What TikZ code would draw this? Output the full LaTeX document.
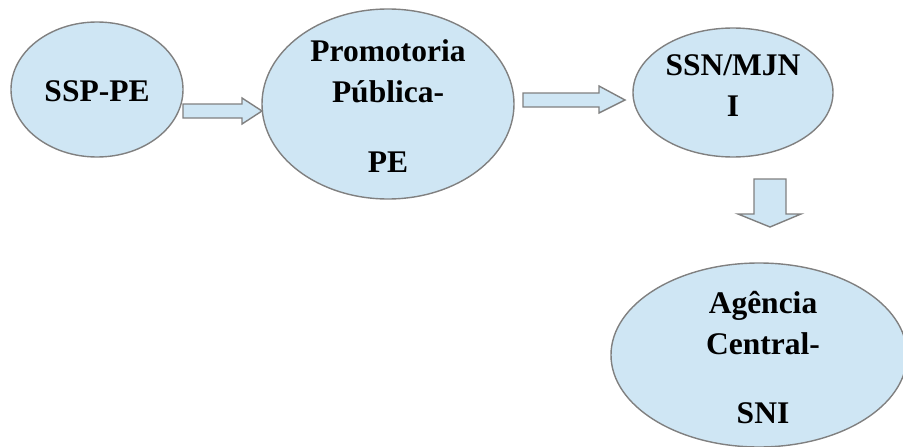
\documentclass[tikz,border=0pt]{standalone}
\usepackage{fontspec}
\setmainfont{Liberation Serif}
\usetikzlibrary{shapes.geometric}
\definecolor{bubfill}{RGB}{207,230,244}
\definecolor{bubline}{RGB}{128,128,128}
\tikzset{
  bub/.style={ellipse, draw=bubline, fill=bubfill, line width=1.4pt, inner sep=0pt},
  lbl/.style={align=center, inner sep=0pt, font=\bfseries\fontsize{31.5}{41}\selectfont},
  blk/.style={draw=bubline, fill=bubfill, line width=1.4pt, line join=miter}
}
\begin{document}
\begin{tikzpicture}[x=1pt,y=-1pt]
\useasboundingbox (0,0) rectangle (903,447);
% bubbles
\node[bub, minimum width=172pt, minimum height=135pt] (e1) at (97,89.5) {};
\node[bub, minimum width=252pt, minimum height=190pt] (e2) at (388,104) {};
\node[bub, minimum width=200pt, minimum height=129pt] (e3) at (733,92.5) {};
\node[bub, minimum width=296pt, minimum height=184pt] (e4) at (759,355) {};
% labels
\node[lbl, yshift=-1.5pt] (t1) at (e1) {SSP-PE};
\node[lbl, yshift=-2pt] (t2) at (e2) {Promotoria\\Pública-\\[29pt]PE};
\node[lbl, yshift=7pt] (t3) at (e3) {SSN/MJN\\I};
\node[lbl, xshift=4pt, yshift=-3pt] (t4) at (e4) {Agência\\Central-\\[28pt]SNI};
% block arrows
\path[blk] (183,104) -- (242,104) -- (242,98) -- (262,111) -- (242,124) -- (242,118) -- (183,118) -- cycle;
\path[blk] (523,93) -- (599,93) -- (599,86) -- (625,100) -- (599,113) -- (599,107) -- (523,107) -- cycle;
\path[blk] (754,179) -- (786,179) -- (786,214) -- (801,214) -- (770,227) -- (738,214) -- (754,214) -- cycle;
\end{tikzpicture}
\end{document}
